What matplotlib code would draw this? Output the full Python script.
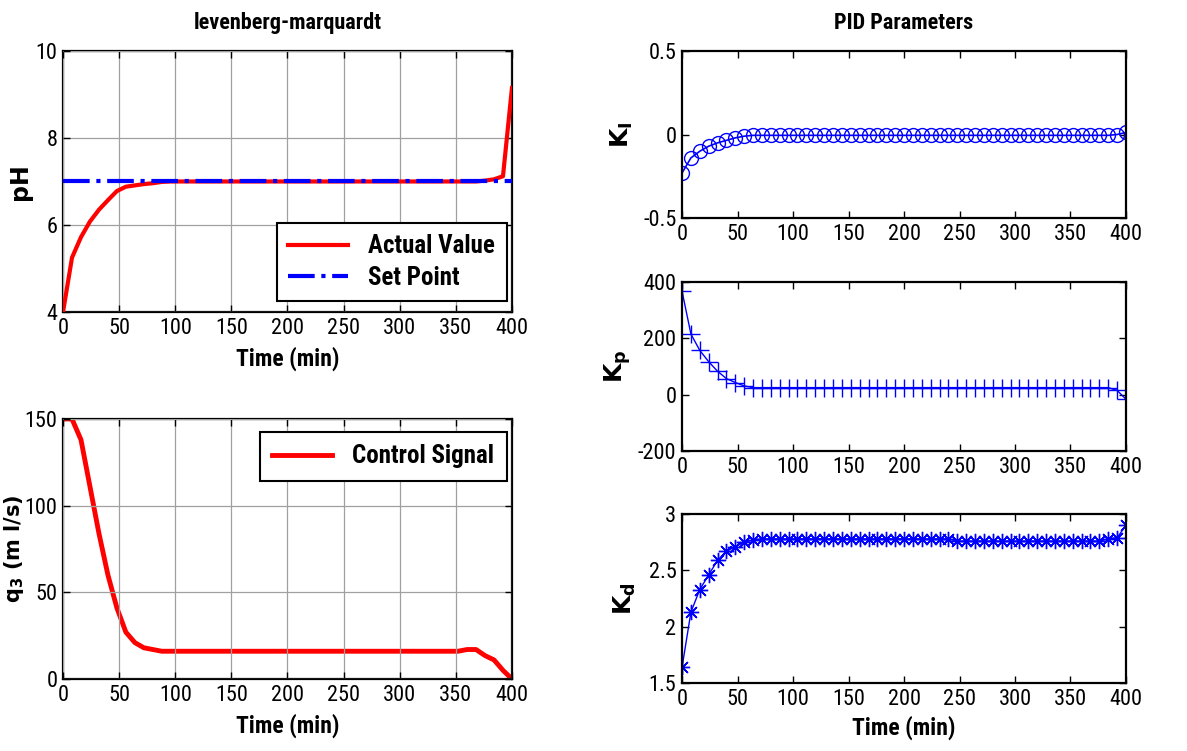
import matplotlib
matplotlib.use("Agg")
import matplotlib.pyplot as plt
from matplotlib import font_manager

# ---------------- data ----------------
time = [0, 8, 16, 24, 32, 40, 48, 56, 64, 72,
        80, 88, 96, 104, 112, 120, 128, 136, 144, 152,
        160, 168, 176, 184, 192, 200, 208, 216, 224, 232,
        240, 248, 256, 264, 272, 280, 288, 296, 304, 312,
        320, 328, 336, 344, 352, 360, 368, 376, 384, 392,
        400]

ph_actual = [4.00, 5.25, 5.72, 6.08, 6.35, 6.57, 6.78, 6.88, 6.91, 6.94,
             6.96, 6.99, 7.00, 7.00, 7.00, 7.00, 7.00, 7.00, 7.00, 7.00,
             7.00, 7.00, 7.00, 7.00, 7.00, 7.00, 7.00, 7.00, 7.00, 7.00,
             7.00, 7.00, 7.00, 7.00, 7.00, 7.00, 7.00, 7.00, 7.00, 7.00,
             7.00, 7.00, 7.00, 7.00, 7.00, 7.00, 7.00, 7.02, 7.05, 7.12,
             9.15]

setpoint_time = [0, 400]
setpoint_ph = [7.0, 7.0]

control = [150, 150, 138, 111, 84, 60, 41, 27, 21, 18,
           17, 16, 16, 16, 16, 16, 16, 16, 16, 16,
           16, 16, 16, 16, 16, 16, 16, 16, 16, 16,
           16, 16, 16, 16, 16, 16, 16, 16, 16, 16,
           16, 16, 16, 16, 16, 17, 17, 13.5, 11, 5,
           0]

ki = [-0.23, -0.14, -0.10, -0.07, -0.05, -0.035, -0.02, -0.01, -0.005, -0.005,
      -0.005, -0.005, -0.005, -0.005, -0.005, -0.005, -0.005, -0.005, -0.005, -0.005,
      -0.005, -0.005, -0.005, -0.005, -0.005, -0.005, -0.005, -0.005, -0.005, -0.005,
      -0.005, -0.005, -0.005, -0.005, -0.005, -0.005, -0.005, -0.005, -0.005, -0.005,
      -0.005, -0.005, -0.005, -0.005, -0.005, -0.005, -0.005, -0.005, -0.005, 0.0,
      0.012]

kp = [367, 215, 157, 117, 83, 57, 43, 31, 25, 25,
      25, 25, 25, 25, 25, 25, 25, 25, 25, 25,
      25, 25, 25, 25, 25, 25, 25, 25, 25, 25,
      25, 25, 25, 25, 25, 25, 25, 25, 25, 25,
      25, 25, 25, 25, 25, 25, 25, 25, 25, 15,
      -16]

kd = [1.64, 2.13, 2.33, 2.46, 2.59, 2.67, 2.71, 2.75, 2.77, 2.78,
      2.78, 2.78, 2.78, 2.78, 2.78, 2.78, 2.78, 2.78, 2.78, 2.78,
      2.78, 2.78, 2.78, 2.78, 2.78, 2.78, 2.78, 2.78, 2.78, 2.78,
      2.78, 2.76, 2.76, 2.76, 2.76, 2.76, 2.76, 2.76, 2.76, 2.76,
      2.76, 2.76, 2.76, 2.76, 2.76, 2.76, 2.76, 2.76, 2.78, 2.79,
      2.90]

x_ticks = [0, 50, 100, 150, 200, 250, 300, 350, 400]

# ---------------- style ----------------
names = {f.name for f in font_manager.fontManager.ttflist}
narrow = 'Liberation Sans'
for cand in ['Roboto Condensed', 'Archivo Narrow', 'Asap Condensed']:
    if cand in names:
        narrow = cand
        break
NARROW = [narrow, 'DejaVu Sans']
WIDE = ['DejaVu Sans']

plt.rcParams['font.family'] = NARROW
plt.rcParams['mathtext.fontset'] = 'dejavusans'

fig = plt.figure(figsize=(11.87, 7.51), dpi=100)

TICK_FS = 16

def style_axes(ax, grid):
    for s in ax.spines.values():
        s.set_linewidth(1.6)
        s.set_color('black')
    ax.tick_params(direction='in', length=5, width=1.0, top=True, right=True,
                   labelsize=TICK_FS, pad=4, colors='black')
    if grid:
        ax.grid(True, color='#a0a0a0', linewidth=0.9, linestyle='-')
        ax.set_axisbelow(False)

# ---- top-left: pH ----
ax1 = fig.add_axes([0.0531, 0.5846, 0.3782, 0.3475])
ax1.plot(time, ph_actual, color='#ff0000', lw=3, label='Actual Value', zorder=3)
ax1.plot(setpoint_time, setpoint_ph, color='#0000ff', lw=3, ls='-.', label='Set Point', zorder=4)
ax1.set_xlim(0, 400)
ax1.set_ylim(4, 10)
ax1.set_xticks(x_ticks)
ax1.set_yticks([4, 6, 8, 10])
style_axes(ax1, True)
ax1.set_title('levenberg-marquardt', fontsize=16, fontweight='bold', pad=16)
ax1.set_xlabel('Time (min)', fontsize=17, fontweight='bold', labelpad=6)
ax1.set_ylabel('pH', fontsize=17, fontweight='bold', family=WIDE)
ax1.yaxis.set_label_coords(-0.07, 0.5)
leg1 = ax1.legend(loc='lower right', bbox_to_anchor=(0.988, 0.042), borderaxespad=0,
                  fancybox=False, edgecolor='black', framealpha=1, handlelength=2.4,
                  borderpad=0.45, labelspacing=0.3, handletextpad=0.8,
                  prop={'family': NARROW, 'size': 18, 'weight': 'bold'})
leg1.get_frame().set_linewidth(1.5)

# ---- bottom-left: control ----
ax2 = fig.add_axes([0.0531, 0.0959, 0.3782, 0.3462])
ax2.plot(time, control, color='#ff0000', lw=3.5, label='Control Signal')
ax2.set_xlim(0, 400)
ax2.set_ylim(0, 150)
ax2.set_xticks(x_ticks)
ax2.set_yticks([0, 50, 100, 150])
style_axes(ax2, True)
ax2.set_xlabel('Time (min)', fontsize=17, fontweight='bold', labelpad=6)
ax2.set_ylabel(r'$\mathbf{q_3}$ (m l/s)', fontsize=15, fontweight='bold', family=WIDE)
ax2.yaxis.set_label_coords(-0.082, 0.5)
leg2 = ax2.legend(loc='upper right', bbox_to_anchor=(0.988, 0.95), borderaxespad=0,
                  fancybox=False, edgecolor='black', framealpha=1, handlelength=2.4,
                  borderpad=0.5, handletextpad=0.8,
                  prop={'family': NARROW, 'size': 18, 'weight': 'bold'})
leg2.get_frame().set_linewidth(1.5)

# ---- right: Ki ----
ax3 = fig.add_axes([0.5746, 0.7097, 0.374, 0.2224])
ax3.plot(time, ki, color='#0000ff', lw=1.2, marker='o', ms=10, mfc='none', mec='#0000ff', mew=1.0)
ax3.set_xlim(0, 400)
ax3.set_ylim(-0.5, 0.5)
ax3.set_xticks(x_ticks)
ax3.set_yticks([-0.5, 0, 0.5])
ax3.set_yticklabels(['-0.5', '0', '0.5'])
style_axes(ax3, False)
ax3.set_title('PID Parameters', fontsize=16, fontweight='bold', pad=16)
ax3.set_ylabel(r'$\mathbf{K_I}$', fontsize=18)
ax3.yaxis.set_label_coords(-0.105, 0.5)

# ---- right: Kp ----
ax4 = fig.add_axes([0.5746, 0.3995, 0.374, 0.2250])
ax4.plot(time, kp, color='#0000ff', lw=1.0, marker='+', ms=13, mec='#0000ff', mew=1.0)
ax4.set_xlim(0, 400)
ax4.set_ylim(-200, 400)
ax4.set_xticks(x_ticks)
ax4.set_yticks([-200, 0, 200, 400])
ax4.set_yticklabels(['-200', '0', '200', '400'])
style_axes(ax4, False)
ax4.set_ylabel(r'$\mathbf{K_p}$', fontsize=18)
ax4.yaxis.set_label_coords(-0.11, 0.5)

# ---- right: Kd ----
ax5 = fig.add_axes([0.5746, 0.0905, 0.374, 0.2250])
ax5.plot(time, kd, color='#0000ff', lw=1.0, marker=(8, 2, 0), ms=11, mec='#0000ff', mew=1.0)
ax5.set_xlim(0, 400)
ax5.set_ylim(1.5, 3)
ax5.set_xticks(x_ticks)
ax5.set_yticks([1.5, 2, 2.5, 3])
ax5.set_yticklabels(['1.5', '2', '2.5', '3'])
style_axes(ax5, False)
ax5.set_xlabel('Time (min)', fontsize=17, fontweight='bold', labelpad=4)
ax5.set_ylabel(r'$\mathbf{K_d}$', fontsize=18)
ax5.yaxis.set_label_coords(-0.10, 0.5)

fig.savefig('out.png', dpi=100)
